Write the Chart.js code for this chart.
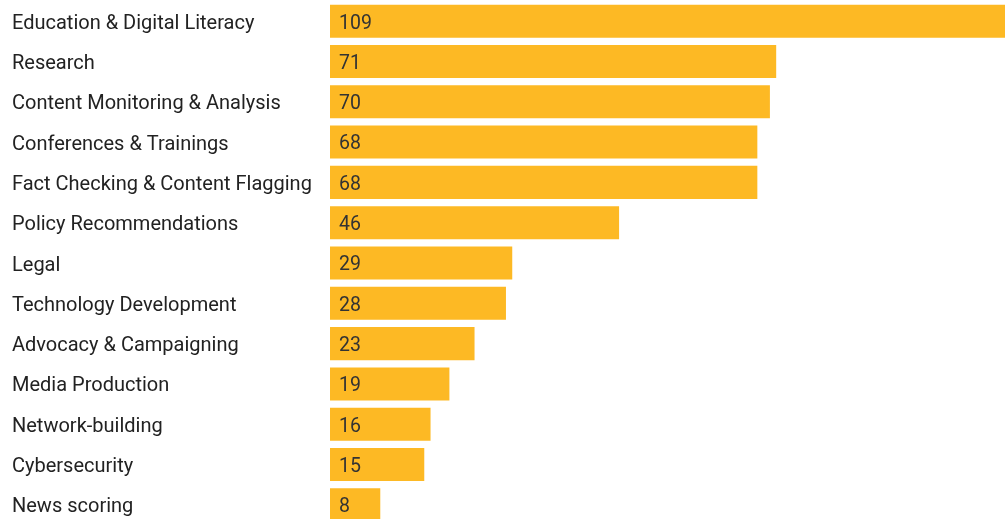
<!DOCTYPE html>
<html>
<head>
<meta charset="utf-8">
<script src="https://cdn.jsdelivr.net/npm/chart.js@4/dist/chart.umd.min.js"></script>
<style>
  html, body { margin: 0; padding: 0; background: #fff; overflow: hidden; }
  #wrap { position: relative; width: 1015px; height: 525px; }
</style>
</head>
<body>
<div id="wrap"><canvas id="myChart"></canvas></div>
<script>
// categories and counts
const categories = [
  'Education & Digital Literacy',
  'Research',
  'Content Monitoring & Analysis',
  'Conferences & Trainings',
  'Fact Checking & Content Flagging',
  'Policy Recommendations',
  'Legal',
  'Technology Development',
  'Advocacy & Campaigning',
  'Media Production',
  'Network-building',
  'Cybersecurity',
  'News scoring'
];
const counts = [109, 71, 70, 68, 68, 46, 29, 28, 23, 19, 16, 15, 8];

// values written inside the bars, at their left end
const valueLabels = {
  id: 'valueLabels',
  afterDatasetsDraw(chart) {
    const ctx = chart.ctx;
    const meta = chart.getDatasetMeta(0);
    ctx.save();
    ctx.font = '19.5px Roboto';
    ctx.fillStyle = '#333333';
    ctx.textAlign = 'left';
    ctx.textBaseline = 'middle';
    meta.data.forEach((bar, i) => {
      ctx.fillText(String(counts[i]), bar.base + 9, bar.y + 2.5);
    });
    ctx.restore();
  }
};

const ctx = document.getElementById('myChart');
const myChart = new Chart(ctx, {
  type: 'bar',
  data: {
    labels: categories,
    datasets: [{
      data: counts,
      backgroundColor: '#FDB924',
      borderWidth: 0,
      barPercentage: 0.82,
      categoryPercentage: 1
    }]
  },
  options: {
    indexAxis: 'y',
    responsive: true,
    maintainAspectRatio: false,
    animation: false,
    layout: { padding: { left: 12, right: 0, top: 1, bottom: 0 } },
    plugins: {
      legend: { display: false },
      tooltip: { enabled: false }
    },
    scales: {
      x: {
        display: false,
        min: 0,
        max: 109
      },
      y: {
        grid: { display: false },
        border: { display: false },
        ticks: {
          crossAlign: 'far',
          padding: 0,
          labelOffset: 2.5,
          color: '#222222',
          font: { family: 'Roboto', size: 20 }
        },
        afterFit(scale) {
          scale.width = 318;
          scale.paddingTop = 0;
          scale.paddingBottom = 0;
        }
      }
    }
  },
  plugins: [valueLabels]
});
</script>
</body>
</html>
